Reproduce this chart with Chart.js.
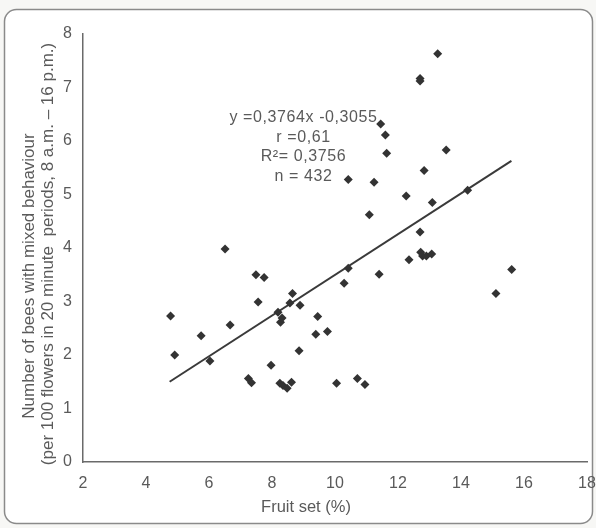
<!DOCTYPE html>
<html>
<head>
<meta charset="utf-8">
<script src="https://cdn.jsdelivr.net/npm/chart.js@4/dist/chart.umd.min.js"></script>
<style>
  html, body { margin: 0; padding: 0; background: #f7f7f5; overflow: hidden; }
  #wrap { position: relative; width: 596px; height: 528px; }
</style>
</head>
<body>
<div id="wrap"><canvas id="c" width="596" height="528"></canvas></div>
<script>
// Fruit set (%) per observation
const fruitSet = [4.78, 4.91, 5.75, 6.03, 6.51, 6.67, 7.25, 7.35, 7.49, 7.56,
  7.75, 7.97, 8.19, 8.27, 8.32, 8.25, 8.35, 8.48, 8.62, 8.57,
  8.65, 8.89, 8.86, 9.45, 9.39, 9.76, 10.05, 10.29, 10.42, 10.71,
  10.95, 11.40, 10.42, 11.09, 11.24, 11.45, 11.60, 11.64, 12.26, 12.35,
  12.70, 12.72, 12.78, 12.90, 13.07, 12.70, 12.70, 12.83, 13.09, 13.26,
  13.53, 14.21, 15.11, 15.61];
// Number of bees with mixed behaviour
const bees = [2.73, 2.00, 2.36, 1.89, 3.98, 2.56, 1.56, 1.48, 3.50, 2.99,
  3.45, 1.81, 2.80, 2.61, 2.69, 1.47, 1.43, 1.38, 1.49, 2.97,
  3.15, 2.93, 2.08, 2.72, 2.39, 2.44, 1.47, 3.34, 3.62, 1.56,
  1.45, 3.51, 5.28, 4.62, 5.23, 6.32, 6.11, 5.77, 4.97, 3.78,
  4.30, 3.92, 3.85, 3.85, 3.89, 7.17, 7.12, 5.45, 4.85, 7.63,
  5.83, 5.08, 3.15, 3.60];
// Regression line end points (as drawn)
const trendX = [4.75, 15.6];
const trendY = [1.50, 5.63];
const xTicks = [2, 4, 6, 8, 10, 12, 14, 16, 18];
const yTicks = [0, 1, 2, 3, 4, 5, 6, 7, 8];
const annotation = ['y =0,3764x -0,3055', 'r =0,61', 'R\u00B2= 0,3756', 'n = 432'];
const xTitle = 'Fruit set (%)';
const yTitle = ['Number of bees with mixed behaviour', '(per 100 flowers in 20 minute  periods, 8 a.m. \u2013 16 p.m.)'];

const points = fruitSet.map((x, i) => ({ x: x, y: bees[i] }));
const trend = trendX.map((x, i) => ({ x: x, y: trendY[i] }));

const textColor = '#5a5a5a';
const axisColor = '#6a6a6a';
const font = 'Liberation Sans, Arial, sans-serif';

const framePlugin = {
  id: 'frame',
  beforeDraw(chart) {
    const ctx = chart.ctx;
    ctx.save();
    ctx.fillStyle = '#ffffff';
    ctx.strokeStyle = '#8a8a8a';
    ctx.lineWidth = 1.5;
    ctx.beginPath();
    ctx.roundRect(4.5, 9.5, 588, 514, 12);
    ctx.fill();
    ctx.stroke();
    ctx.restore();
  }
};

const textPlugin = {
  id: 'texts',
  afterDatasetsDraw(chart) {
    const ctx = chart.ctx;
    const xs = chart.scales.x, ys = chart.scales.y;
    ctx.save();
    ctx.fillStyle = textColor;
    ctx.textAlign = 'center';
    ctx.textBaseline = 'middle';
    // regression annotation
    ctx.font = '16px ' + font;
    ctx.letterSpacing = '0.6px';
    const cx = xs.getPixelForValue(9.0);
    const top = ys.getPixelForValue(6.43);
    annotation.forEach((t, i) => {
      ctx.fillText(t, cx, top + i * 19.5);
    });
    ctx.letterSpacing = '0px';
    // x axis title
    ctx.font = '16.5px ' + font;
    ctx.fillText(xTitle, 306, 507);
    // y axis title (two rotated lines)
    ctx.font = '17px ' + font;
    const ycent = [[29, 276], [48, 254]];
    yTitle.forEach((t, i) => {
      ctx.save();
      ctx.translate(ycent[i][0], ycent[i][1]);
      ctx.rotate(-Math.PI / 2);
      ctx.fillText(t, 0, 0);
      ctx.restore();
    });
    ctx.restore();
  }
};

new Chart(document.getElementById('c'), {
  type: 'scatter',
  data: {
    datasets: [
      {
        data: points,
        pointStyle: 'rectRot',
        pointRadius: 4.5,
        backgroundColor: '#333333',
        borderColor: '#333333',
        borderWidth: 0,
        showLine: false
      },
      {
        data: trend,
        showLine: true,
        pointRadius: 0,
        borderColor: '#3a3a3a',
        borderWidth: 2,
        fill: false
      }
    ]
  },
  plugins: [framePlugin, textPlugin],
  options: {
    responsive: false,
    animation: false,
    events: [],
    layout: { padding: { left: 0, right: 9, top: 34, bottom: 0 } },
    plugins: { legend: { display: false }, tooltip: { enabled: false } },
    scales: {
      x: {
        type: 'linear',
        min: 2, max: 18,
        afterBuildTicks: s => { s.ticks = xTicks.map(v => ({ value: v })); },
        afterFit: s => { s.height = 66; s.paddingRight = 0; s.paddingLeft = 0; },
        grid: { display: false, drawTicks: true, tickLength: 5, color: axisColor },
        border: { display: true, color: axisColor, width: 1.5 },
        ticks: { color: textColor, font: { size: 16, family: font }, padding: 7, maxRotation: 0 }
      },
      y: {
        type: 'linear',
        min: 0, max: 8,
        afterBuildTicks: s => { s.ticks = yTicks.map(v => ({ value: v })); },
        afterFit: s => { s.width = 83; s.paddingTop = 0; s.paddingBottom = 0; },
        grid: { display: false, drawTicks: true, tickLength: 5, color: axisColor },
        border: { display: true, color: axisColor, width: 1.5 },
        ticks: { color: textColor, font: { size: 16, family: font }, padding: 6 }
      }
    }
  }
});
</script>
</body>
</html>
